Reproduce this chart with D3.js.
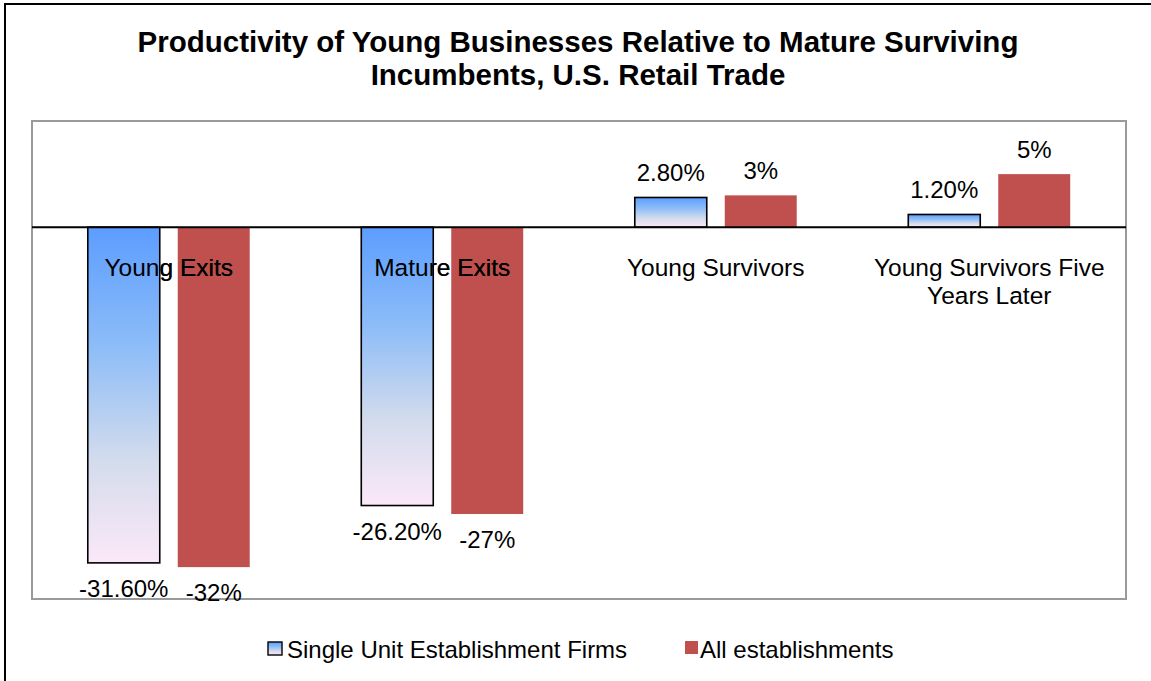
<!DOCTYPE html>
<html>
<head>
<meta charset="utf-8">
<script src="https://cdn.jsdelivr.net/npm/d3@7"></script>
<style>
  html, body { margin: 0; padding: 0; background: #fff; }
  svg { display: block; font-family: "Liberation Sans", Arial, sans-serif; }
</style>
</head>
<body>
<svg id="chart" width="1151" height="681"></svg>
<script>
// Productivity gap vs. mature surviving incumbents (percent)
const categories = ["Young Exits", "Mature Exits", "Young Survivors", "Young Survivors Five Years Later"];
const categoryLines = [["Young Exits"], ["Mature Exits"], ["Young Survivors"], ["Young Survivors Five", "Years Later"]];
const seriesNames = ["Single Unit Establishment Firms", "All establishments"];
const singleUnit = [-31.6, -26.2, 2.8, 1.2];
const allEstablishments = [-32, -27, 3, 5];
const singleUnitLabels = ["-31.60%", "-26.20%", "2.80%", "1.20%"];
const allLabels = ["-32%", "-27%", "3%", "5%"];

const svg = d3.select("#chart");
const W = 1151, H = 681;

// outer chart frame
svg.append("rect").attr("x", 5).attr("y", 4).attr("width", W + 10).attr("height", H + 10)
  .attr("fill", "#fff").attr("stroke", "#000").attr("stroke-width", 2);

const plot = { left: 32, top: 121, right: 1126, bottom: 599 };

const x0 = d3.scaleBand().domain(categories).range([plot.left, plot.right]).paddingInner(0).paddingOuter(0);
const x1 = d3.scaleBand().domain(seriesNames).range([0, x0.bandwidth()]).paddingInner(0.2).paddingOuter(0.62);
const y = d3.scaleLinear().domain([-35, 10]).range([plot.bottom, plot.top]);

// gradient for the single-unit bars
const defs = svg.append("defs");
const grad = defs.append("linearGradient").attr("id", "blueGrad")
  .attr("x1", 0).attr("y1", 0).attr("x2", 0).attr("y2", 1);
grad.append("stop").attr("offset", "0%").attr("stop-color", "#5c9dff");
grad.append("stop").attr("offset", "35%").attr("stop-color", "#8cbcf8");
grad.append("stop").attr("offset", "70%").attr("stop-color", "#d4dcec");
grad.append("stop").attr("offset", "100%").attr("stop-color", "#fbe8f8");

// plot area
svg.append("rect").attr("x", plot.left).attr("y", plot.top)
  .attr("width", plot.right - plot.left).attr("height", plot.bottom - plot.top)
  .attr("fill", "#fff").attr("stroke", "#9a9a9a").attr("stroke-width", 2);

// title
const title = svg.append("text").attr("text-anchor", "middle")
  .attr("font-weight", "bold").attr("font-size", 29.5).attr("fill", "#000");
title.append("tspan").attr("x", 578).attr("y", 52).text("Productivity of Young Businesses Relative to Mature Surviving");
title.append("tspan").attr("x", 578).attr("y", 85).text("Incumbents, U.S. Retail Trade");

const groups = svg.selectAll("g.cat").data(categories).join("g")
  .attr("class", "cat").attr("transform", d => `translate(${x0(d)},0)`);

// all establishments bars
groups.append("rect")
  .attr("x", x1(seriesNames[1]))
  .attr("width", x1.bandwidth())
  .attr("y", (d, i) => y(Math.max(0, allEstablishments[i])))
  .attr("height", (d, i) => Math.abs(y(allEstablishments[i]) - y(0)))
  .attr("fill", "#c0504d");

// category labels just below the zero line
function categoryLabel(sel) {
  sel.each(function(d) {
    const i = categories.indexOf(d);
    const t = d3.select(this).append("text").attr("text-anchor", "middle")
      .attr("font-size", 24.5).attr("fill", "#000");
    categoryLines[i].forEach((line, k) => {
      t.append("tspan").attr("x", x0.bandwidth() / 2).attr("y", y(0) + 49 + k * 28).text(line);
    });
  });
}
categoryLabel(groups);

// single unit bars
groups.append("rect")
  .attr("x", x1(seriesNames[0]))
  .attr("width", x1.bandwidth())
  .attr("y", (d, i) => y(Math.max(0, singleUnit[i])))
  .attr("height", (d, i) => Math.abs(y(singleUnit[i]) - y(0)))
  .attr("fill", "url(#blueGrad)").attr("stroke", "#000").attr("stroke-width", 1.6);

// keep labels readable over the negative single-unit bars
categoryLabel(groups.filter((d, i) => singleUnit[i] < 0));

// zero line
svg.append("line").attr("x1", plot.left).attr("x2", plot.right)
  .attr("y1", y(0)).attr("y2", y(0)).attr("stroke", "#000").attr("stroke-width", 2);

// value labels
function valueLabel(vals, labels, series) {
  groups.append("text").attr("text-anchor", "middle").attr("font-size", 24).attr("fill", "#000")
    .attr("x", x1(series) + x1.bandwidth() / 2)
    .attr("y", (d, i) => vals[i] >= 0 ? y(vals[i]) - 16 : y(vals[i]) + 34)
    .text((d, i) => labels[i]);
}
valueLabel(singleUnit, singleUnitLabels, seriesNames[0]);
valueLabel(allEstablishments, allLabels, seriesNames[1]);

// legend
const legend = svg.append("g").attr("font-size", 24);
const lg1 = legend.append("g").attr("transform", "translate(268,642)");
lg1.append("rect").attr("width", 14).attr("height", 13).attr("fill", "url(#blueGrad)")
  .attr("stroke", "#000").attr("stroke-width", 1.4);
lg1.append("text").attr("x", 19).attr("y", 16).text(seriesNames[0]);
const lg2 = legend.append("g").attr("transform", "translate(685,641)");
lg2.append("rect").attr("width", 13).attr("height", 13).attr("fill", "#c0504d");
lg2.append("text").attr("x", 15).attr("y", 17).text(seriesNames[1]);
</script>
</body>
</html>
